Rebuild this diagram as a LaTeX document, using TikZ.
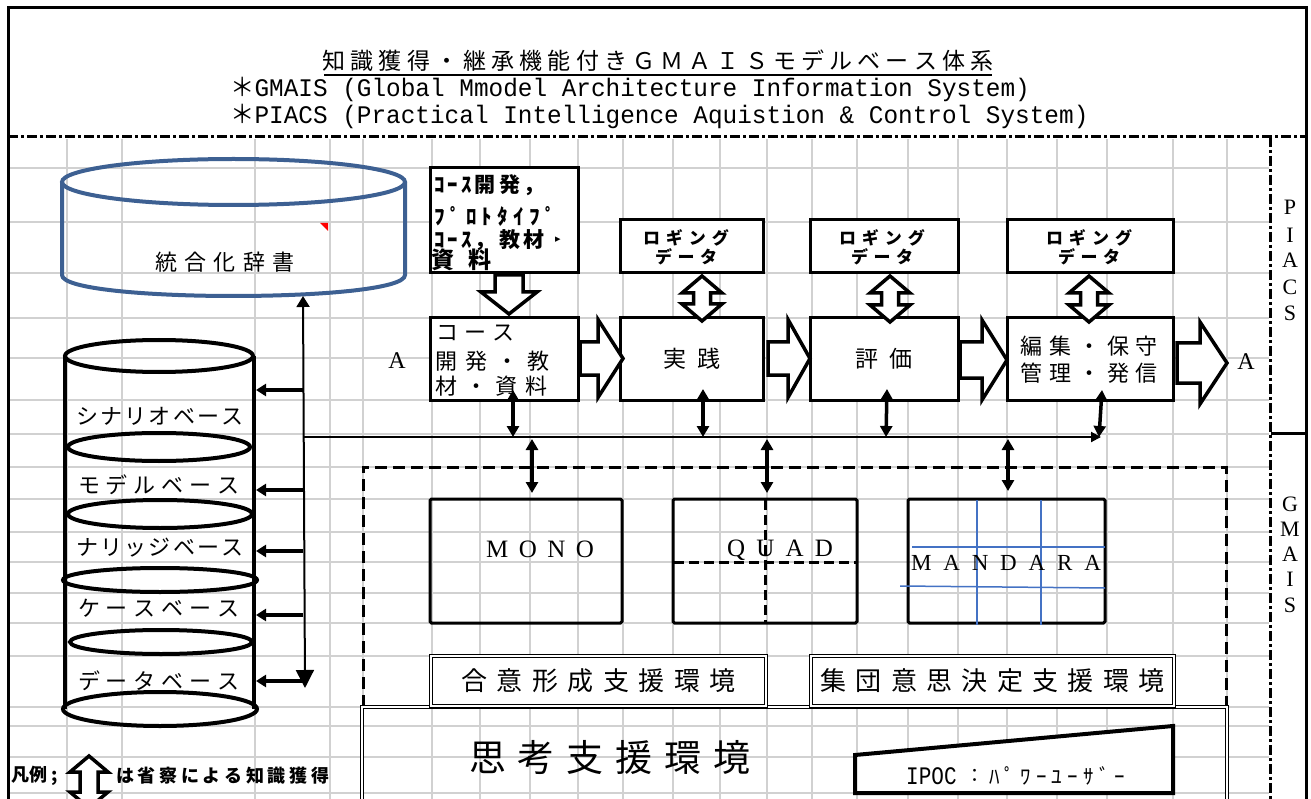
\documentclass[tikz,border=0pt]{standalone}
\usepackage{fontspec}
\setmainfont{Liberation Serif}
\newfontfamily\cjk{Noto Sans CJK JP}
\newfontfamily\monof{Liberation Mono}
\newfontfamily\symf{DejaVu Sans}
\usetikzlibrary{arrows.meta,calc}
\makeatletter
\def\spr@a#1{#1\spr@b}
\def\spr@b#1{\ifx\relax#1\else\hfill#1\expandafter\spr@b\fi}
\newcommand\spr[2]{\makebox[#1][s]{\spr@a#2\relax}}
\makeatother
\newcommand\fs[1]{\fontsize{#1}{#1}\selectfont}
\newcommand\hblk[6]{\draw[blk] (#1,#4-#5) -- (#2,#4-#5) -- (#2,#4-#6) -- (#3,#4) -- (#2,#4+#6) -- (#2,#4+#5) -- (#1,#4+#5) -- cycle;}
\newcommand\vdbl[6]{\draw[blk] (#1,#2) -- (#1+#5,#2+#4) -- (#1+#6,#2+#4) -- (#1+#6,#3-#4) -- (#1+#5,#3-#4) -- (#1,#3) -- (#1-#5,#3-#4) -- (#1-#6,#3-#4) -- (#1-#6,#2+#4) -- (#1-#5,#2+#4) -- cycle;}
\begin{document}
\begin{tikzpicture}[x=1pt,y=-1pt,
  gridl/.style={draw=black!18, line width=1.5pt},
  frame/.style={line width=3pt},
  dashdot/.style={line width=3pt, dash pattern=on 10pt off 3pt on 3pt off 3pt},
  wbox/.style={draw, line width=3pt, fill=white, inner sep=0pt},
  tbox/.style={draw, line width=3pt, inner sep=0pt, rounded corners=1.5pt},
  dbox/.style={draw, double, double distance=2pt, line width=1.3pt, fill=white, inner sep=0pt},
  blk/.style={draw, line width=3.5pt, fill=white, line join=miter, miter limit=4},
  larrow/.style={line width=3.5pt, -{Triangle[length=10pt,width=12pt]}},
  darrow/.style={line width=3.5pt, {Triangle[length=11pt,width=12pt]}-{Triangle[length=11pt,width=12pt]}},
  txt/.style={inner sep=0pt},
  vlet/.style={inner sep=0pt, anchor=base, font=\fs{22}},
]
\useasboundingbox (0,0) rectangle (1311,799);
\clip (0,0) rectangle (1311,799);
\fill[white] (0,0) rectangle (1311,799);
% grid
\foreach \x in {67,122,255,330,363,432,480,530,578,623,673,720,767,812,857,908,958,1007,1057,1107,1173,1227}
  \draw[gridl] (\x,139) -- (\x,799);
\foreach \y in {168,222,273,318,358,400,434,467,499,532,562,593,623,656,707,726,757,793}
  \draw[gridl] (9,\y) -- (1269,\y);
% frame
\draw[frame] (8,805) -- (8,8) -- (1306,8) -- (1306,805);
\draw[dashdot] (8,137) -- (1306,137);
\draw[dashdot] (1270,137) -- (1270,805);
\draw[frame] (1271,433) -- (1306,433);
% header
\node[txt, anchor=base, font=\cjk\fs{23}] (title) at (658,70) {\spr{671pt}{知識獲得・継承機能付きＧＭＡＩＳモデルベース体系}};
\draw[line width=1.5pt] ($(title.base west)+(2,5)$) -- ($(title.base east)+(-2,5)$);
\node[txt, anchor=base west, font=\monof\fs{23}] (h2) at (230,97) {\scalebox{1.06}[1.1]{{\cjk ＊}GMAIS (Global Mmodel Architecture Information System)}};
\node[txt, anchor=base west, font=\monof\fs{23}] (h3) at (230,124) {\scalebox{1.06}[1.1]{{\cjk ＊}PIACS (Practical Intelligence Aquistion \& Control System)}};
% strip labels
\foreach \l/\y in {P/207,I/235,A/260,C/287,S/312} \node[vlet] at (1290,\y+8) {\l};
\foreach \l/\y in {G/503,M/528,A/553,I/578,S/604} \node[vlet] at (1290,\y+8) {\l};
% big cylinder
\draw[draw={rgb,255:red,61;green,96;blue,146}, line width=4pt] (62,182) -- (62,275) .. controls (62,303) and (405,303) .. (405,275) -- (405,182);
\draw[draw={rgb,255:red,61;green,96;blue,146}, line width=4pt] (233.5,182) ellipse [x radius=171.5, y radius=23];
\node[txt, font=\cjk\fs{22}] (dict) at (225,262) {\spr{140pt}{統合化辞書}};
\fill[red] (320,223) -- (328,223) -- (328,231) -- cycle;
% stack cylinder
\draw[line width=4pt] (65,356) -- (65,709);
\draw[line width=4pt] (254,356) -- (254,709);
\draw[line width=4pt] (159,356) ellipse [x radius=94, y radius=16];
\draw[line width=4pt] (159,447) ellipse [x radius=91, y radius=14];
\draw[line width=4pt] (160,514) ellipse [x radius=92, y radius=14];
\draw[line width=4pt] (160,580) ellipse [x radius=97, y radius=12];
\draw[line width=4pt] (161,642) ellipse [x radius=91, y radius=12];
\draw[line width=4pt] (160,709) ellipse [x radius=97, y radius=17];
\node[txt, font=\cjk\fs{22}] (sc) at (160,416) {\spr{168pt}{シナリオベース}};
\node[txt, font=\cjk\fs{22}] (mb) at (159,485) {\spr{162pt}{モデルベース}};
\node[txt, font=\cjk\fs{22}] (kb) at (160,548) {\spr{168pt}{ナリッジベース}};
\node[txt, font=\cjk\fs{22}] (cb) at (159,608) {\spr{162pt}{ケースベース}};
\node[txt, font=\cjk\fs{22}] (db) at (159,681) {\spr{162pt}{データベース}};
% vertical distribution line
\coordinate (vt) at (303,296);
\coordinate (vb) at (305,688);
\draw[line width=2pt, {Triangle[length=11pt,width=13pt]}-{Triangle[length=18pt,width=18pt]}] (vt) -- (vb);
\foreach \y in {390,490,551,615,681} \draw[larrow] (303,\y) -- (256,\y);
% horizontal bus
\coordinate (bl) at (303,437);
\coordinate (br) at (1101,437);
\draw[line width=2pt, -{Triangle[length=10pt,width=10pt]}] (bl) -- (br);
% top boxes
\node[wbox, minimum width=148pt, minimum height=105pt] (proto) at (504,220.5) {};
\node[txt, anchor=west, font=\cjk\bfseries\fs{21}] (p1) at (434,185) {\spr{110pt}{ｺｰｽ開発，}};
\node[txt, anchor=west, font=\cjk\bfseries\fs{21}] (p2) at (434,216) {\spr{122pt}{ﾌﾟﾛﾄﾀｲﾌﾟ}};
\node[txt, anchor=west, font=\cjk\bfseries\fs{21}] (p3) at (434,240) {\spr{110pt}{ｺｰｽ，教材}};
\node[txt, font=\symf\fs{11}] (p3b) at (558,240) {▸};
\node[txt, anchor=west, font=\cjk\bfseries\fs{23}] (p4) at (431,260) {\spr{60pt}{資料}};
\node[wbox, minimum width=143pt, minimum height=53pt] (log1) at (691.5,246.5) {};
\node[wbox, minimum width=148pt, minimum height=53pt] (log2) at (884,246.5) {};
\node[wbox, minimum width=166pt, minimum height=53pt] (log3) at (1090,246.5) {};
\foreach \n/\c in {log1/686,log2/882,log3/1089}{
  \node[txt, font=\cjk\bfseries\fs{17}] at (\c,238) {\spr{86pt}{ロギング}};
  \node[txt, font=\cjk\bfseries\fs{17}] at (\c,257) {\spr{62pt}{データ}};
}
% main row
\node[wbox, minimum width=148pt, minimum height=82pt] (course) at (504,359) {};
\node[txt, anchor=west, font=\cjk\fs{22}] (c1) at (436,333) {\spr{78pt}{コース}};
\node[txt, anchor=west, font=\cjk\fs{22}] (c2) at (435,361) {\spr{114pt}{開発・教}};
\node[txt, anchor=west, font=\cjk\fs{22}] (c3) at (435,386) {\spr{112pt}{材・資料}};
\node[wbox, minimum width=143pt, minimum height=82pt, font=\cjk\fs{23}] (jissen) at (691.5,359) {\spr{57pt}{実践}};
\node[wbox, minimum width=148pt, minimum height=82pt, font=\cjk\fs{23}] (hyoka) at (884,359) {\spr{57pt}{評価}};
\node[wbox, minimum width=166pt, minimum height=82pt] (henshu) at (1090,359) {};
\node[txt, font=\cjk\fs{22}] (e1) at (1089,346) {\spr{138pt}{編集・保守}};
\node[txt, font=\cjk\fs{22}] (e2) at (1089,373) {\spr{138pt}{管理・発信}};
% block arrows
\hblk{580}{598}{623}{358.5}{16.5}{39}
\hblk{768}{788}{810}{358.5}{16.5}{39}
\hblk{960}{982}{1007}{360}{18}{40}
\hblk{1177}{1200}{1227}{363}{20}{41}
\draw[blk] (495,275) -- (523,275) -- (523,292) -- (537,292) -- (509,314) -- (481,292) -- (495,292) -- cycle;
\vdbl{702}{276}{321}{17}{20}{8.5}
\vdbl{890}{276}{322}{17}{20}{8.5}
\vdbl{1089}{276}{322}{17}{20}{8.5}
\node[txt, font=\fs{24}] (A1) at (397,361) {A};
\node[txt, font=\fs{24}] (A2) at (1246,362) {A};
% small double arrows
\draw[darrow] (513,390) -- (513,437);
\draw[darrow] (703,389) -- (703,437);
\draw[darrow] (887,389) -- (886,437);
\draw[darrow] (1102,390) -- (1099,437);
\draw[darrow] (532,439) -- (532,493);
\draw[darrow] (767,439) -- (767,493);
\draw[darrow] (1008,439) -- (1008,491);
% GMAIS dashed region
\draw[line width=3pt, dash pattern=on 12pt off 6pt] (363,707) -- (363,467) -- (1226,467) -- (1226,805);
\node[tbox, minimum width=192pt, minimum height=124pt] (mono) at (526,561) {};
\node[txt, font=\fs{25}] at (540,549) {\spr{108pt}{MONO}};
\node[tbox, minimum width=184pt, minimum height=124pt] (quad) at (765,561) {};
\draw[line width=3pt, dash pattern=on 10pt off 5pt] (765,500) -- (765,622);
\draw[line width=3pt, dash pattern=on 10pt off 5pt] (674,562) -- (856,562);
\node[txt, font=\fs{25}] at (780,550) {\spr{106pt}{QUAD}};
\node[tbox, minimum width=197pt, minimum height=124pt] (mandara) at (1006.5,561) {};
\begin{scope}[draw={rgb,255:red,68;green,114;blue,196}, line width=1.5pt]
\draw (977,500) -- (977,625);
\draw (1041,500) -- (1041,625);
\draw (912,547) -- (1105,547);
\draw (900,586) -- (1105,588);
\end{scope}
\node[txt, font=\fs{23}] at (1006,563) {\spr{190pt}{MANDARA}};
% thinking support
\draw[double, double distance=2pt, line width=1.3pt] (362,840) -- (362,707) -- (1227,707) -- (1227,840);
\node[dbox, minimum width=335pt, minimum height=50pt, font=\cjk\fs{26}] (goui) at (598.5,681) {\spr{274pt}{合意形成支援環境}};
\node[dbox, minimum width=363pt, minimum height=50pt, font=\cjk\fs{26}] (shudan) at (992.5,681) {\spr{344pt}{集団意思決定支援環境}};
\node[txt, font=\cjk\fs{37}] (shiko) at (610,757) {\spr{282pt}{思考支援環境}};
\draw[line width=4pt, fill=white] (855,755) -- (1173,726) -- (1173,793) -- (855,793) -- cycle;
\node[txt, anchor=west, font=\monof\fs{21}] (ipoc) at (906,776) {\scalebox{1}[1.2]{IPOC}};
\node[txt, font=\cjk\fs{19}] (colon) at (975,776) {：};
\node[txt, anchor=west, font=\cjk\fs{21}] (pu) at (989,776) {\spr{136pt}{ﾊﾟﾜｰﾕｰｻﾞｰ}};
% legend
\node[txt, anchor=west, font=\cjk\bfseries\fs{18}] (lg1) at (11,776) {凡例 ;};
\vdbl{89}{756}{808}{16}{19}{9}
\node[txt, anchor=west, font=\cjk\bfseries\fs{18}] (lg2) at (116,776) {\spr{213pt}{は省察による知識獲得}};
\end{tikzpicture}
\end{document}
